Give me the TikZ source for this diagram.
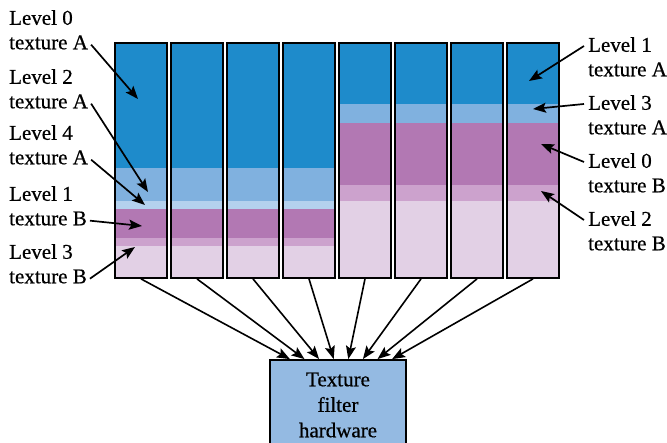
\documentclass[tikz,border=0pt]{standalone}
\usepackage{fontspec}
\setmainfont{Liberation Serif}
\newfontfamily\lblfont{Liberation Serif}[FakeBold=0.6]
\usetikzlibrary{arrows.meta,positioning}
\definecolor{Ink}{HTML}{000000}
\definecolor{MipBlue}{HTML}{1E8BCB}
\definecolor{MipSky}{HTML}{80B1DF}
\definecolor{MipIce}{HTML}{B4D1EE}
\definecolor{MipPlum}{HTML}{B278B3}
\definecolor{MipLilac}{HTML}{CCA2CD}
\definecolor{MipMist}{HTML}{E2D0E5}
\definecolor{HwFill}{HTML}{94BAE2}
\tikzset{
  col/.style={rectangle,draw=Ink,line width=1.8pt,minimum width=52pt,minimum height=235.3pt,inner sep=0pt},
  hw/.style={rectangle,draw=Ink,fill=HwFill,line width=1.8pt,minimum width=136pt,minimum height=90pt,align=center,font=\lblfont\fontsize{21}{25.5}\selectfont},
  lvl/.style={font=\lblfont\fontsize{21}{24.5}\selectfont,align=left,inner sep=0pt,text=Ink,anchor=north west},
  ptr/.style={draw=Ink,line width=1.7pt,-{Stealth[length=13pt,width=10pt,inset=2.5pt]}},
  feed/.style={draw=Ink,line width=1.6pt,-{Stealth[length=13pt,width=10pt,inset=2.5pt]}},
}
\begin{document}
\begin{tikzpicture}[x=1pt,y=-1pt]
\useasboundingbox (0,0) rectangle (667,443);
% Texture A holds the deep levels on the left, texture B on the right.
\foreach \i in {0,...,3}{
\begin{scope}[xshift=56*\i]
\fill[MipBlue] (115,42.7) rectangle (167,167.7); \fill[MipSky] (115,167.7) rectangle (167,201);
\fill[MipIce] (115,201) rectangle (167,209); \fill[MipPlum] (115,209) rectangle (167,237.7);
\fill[MipLilac] (115,237.7) rectangle (167,245.7); \fill[MipMist] (115,245.7) rectangle (167,278);
\end{scope}}
\foreach \i in {4,...,7}{
\begin{scope}[xshift=56*\i]
\fill[MipBlue] (115,42.7) rectangle (167,104); \fill[MipSky] (115,104) rectangle (167,123);
\fill[MipPlum] (115,123) rectangle (167,185); \fill[MipLilac] (115,185) rectangle (167,201);
\fill[MipMist] (115,201) rectangle (167,278);
\end{scope}}
\foreach \i in {0,...,7} \node[col] (c\i) at ({141+56*\i},160.35) {};
\node[hw] (hw) at (338,405) {Texture\\filter\\hardware};
\foreach \i in {0,...,7} \draw[feed] (c\i.south) -- ([xshift={3+(\i-3.5)*14.6}]hw.north);
% Labels and the bands they point at.
\node[lvl] (tA0) at (9,10) {Level 0\\texture A}; \node[lvl] (tA2) at (9,69) {Level 2\\texture A};
\node[lvl] (tA4) at (9,125) {Level 4\\texture A}; \node[lvl] (tB1) at (9,186) {Level 1\\texture B};
\node[lvl] (tB3) at (9,244) {Level 3\\texture B};
\node[lvl] (tA1) at (588,37) {Level 1\\texture A}; \node[lvl] (tA3) at (588,95) {Level 3\\texture A};
\node[lvl] (tB0) at (588,153) {Level 0\\texture B}; \node[lvl] (tB2) at (588,211) {Level 2\\texture B};
\coordinate (pA0) at (138,99); \coordinate (pA2) at (148,192); \coordinate (pA4) at (145,205);
\coordinate (pB1) at (142,226); \coordinate (pB3) at (135,247);
\coordinate (pA1) at (529,81); \coordinate (pA3) at (533,109); \coordinate (pB0) at (541,144); \coordinate (pB2) at (541,191);
\foreach \n in {A0,A2,A4,B1,B3} \draw[ptr] ([shift={(3,-5)}]t\n.south east) -- (p\n);
\foreach \n in {A1,A3,B0,B2} \draw[ptr] ([shift={(-4,9)}]t\n.north west) -- (p\n);
\end{tikzpicture}
\end{document}
